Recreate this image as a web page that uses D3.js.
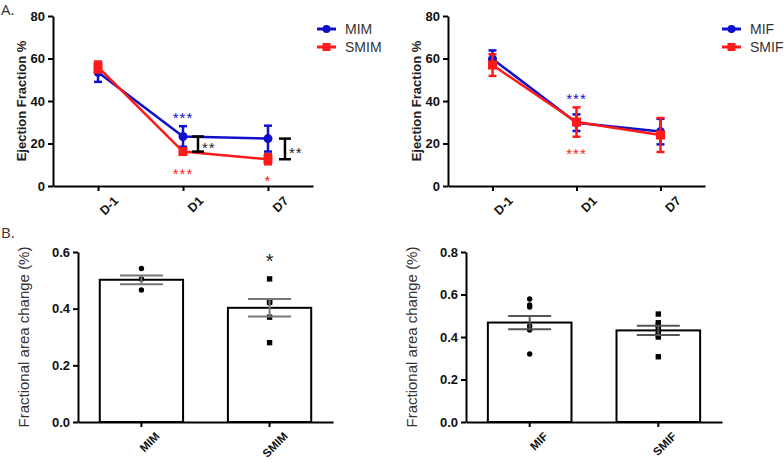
<!DOCTYPE html>
<html><head><meta charset="utf-8">
<script src="https://cdn.jsdelivr.net/npm/d3@7"></script>
<style>body{margin:0;background:#fff}svg{display:block}</style>
</head><body>
<svg id="c" width="784" height="462"></svg>
<script>
// ---- Data ----
const days = ["D-1", "D1", "D7"];
const efTicks = [0, 20, 40, 60, 80];
const mimMean = [53.5, 23.3, 22.3];
const mimSem = [4.5, 4.85, 6.1];
const smimMean = [56.0, 16.2, 12.6];
const smimSem = [2.6, 1.5, 2.4];
const mifMean = [59.8, 29.8, 25.6];
const mifSem = [4.0, 3.9, 6.0];
const smifMean = [56.9, 30.1, 24.0];
const smifSem = [5.1, 6.9, 8.0];

const groupsM = ["MIM", "SMIM"];
const groupsF = ["MIF", "SMIF"];
const facTicksM = [0, 0.2, 0.4, 0.6];
const facTicksF = [0, 0.2, 0.4, 0.6, 0.8];
const facMeanM = [0.502, 0.403];
const facSemM = [0.0155, 0.031];
const facMeanF = [0.468, 0.431];
const facSemF = [0.031, 0.022];
const mimPts = [0.542, 0.505, 0.466];
const smimPts = [0.505, 0.428, 0.422, 0.370, 0.280];
const mifPts = [0.579, 0.551, 0.541, 0.452, 0.438, 0.433, 0.320];
const smifPts = [0.508, 0.467, 0.456, 0.441, 0.425, 0.409, 0.400, 0.307];

const BLUE = "#1010cc", RED = "#ff1a1a";
const FONT = "'Liberation Sans', Arial, sans-serif";
const svg = d3.select("#c");

// panel labels
svg.append("text").attr("x", 1).attr("y", 15).text("A.")
  .attr("font-family", "'Open Sans', sans-serif").attr("font-size", 15).attr("fill", "#333");
svg.append("text").attr("x", 1).attr("y", 238).text("B.")
  .attr("font-family", "'Open Sans', sans-serif").attr("font-size", 15).attr("fill", "#333");

function styleAxis(g) {
  g.selectAll("path.domain").attr("stroke", "#000").attr("stroke-width", 2);
  g.selectAll(".tick line").attr("stroke", "#000").attr("stroke-width", 2);
  g.selectAll("text").attr("font-family", FONT).attr("font-weight", "bold").attr("fill", "#111");
}

function linePanel(opt) {
  const x = d3.scalePoint().domain(days).range([opt.x0, opt.x1]).padding(0.53);
  const y = d3.scaleLinear().domain([0, 80]).range([186, 16]);
  const g = svg.append("g");
  const ya = g.append("g").attr("transform", `translate(${opt.x0},0)`)
    .call(d3.axisLeft(y).tickValues(efTicks).tickSize(5).tickPadding(3).tickSizeOuter(0));
  styleAxis(ya);
  ya.selectAll("text").attr("font-size", 13);
  const xa = g.append("g").attr("transform", `translate(0,186)`)
    .call(d3.axisBottom(x).tickSize(5).tickSizeOuter(0));
  styleAxis(xa);
  xa.selectAll("text").attr("font-size", 12.5).attr("text-anchor", "end")
    .attr("transform", "translate(7,2) rotate(-45)").attr("dy", "0.9em").attr("dx", "0");
  g.append("text").attr("transform", `translate(${opt.x0 - 27},${y(40)}) rotate(-90)`)
    .attr("text-anchor", "middle").attr("font-family", FONT).attr("font-weight", "bold")
    .attr("font-size", 13).attr("fill", "#222").text("Ejection Fraction %");

  function series(mean, sem, color, shape) {
    const line = d3.line().x((d, i) => x(days[i])).y(d => y(d));
    g.append("path").datum(mean).attr("d", line).attr("fill", "none")
      .attr("stroke", color).attr("stroke-width", 2.5);
    mean.forEach((m, i) => {
      const cx = x(days[i]);
      g.append("line").attr("x1", cx).attr("x2", cx).attr("y1", y(m - sem[i])).attr("y2", y(m + sem[i]))
        .attr("stroke", color).attr("stroke-width", 2.5);
      [m - sem[i], m + sem[i]].forEach(v => g.append("line").attr("x1", cx - 4).attr("x2", cx + 4)
        .attr("y1", y(v)).attr("y2", y(v)).attr("stroke", color).attr("stroke-width", 2.5));
      if (shape === "circle") g.append("circle").attr("cx", cx).attr("cy", y(m)).attr("r", 4.5).attr("fill", color);
      else g.append("rect").attr("x", cx - 4.5).attr("y", y(m) - 4.5).attr("width", 9).attr("height", 9).attr("fill", color);
    });
  }
  series(opt.aMean, opt.aSem, BLUE, "circle");
  series(opt.bMean, opt.bSem, RED, "square");

  // legend
  const lx = opt.legX;
  [[opt.names[0], BLUE, "circle", 29], [opt.names[1], RED, "square", 47]].forEach(([n, c, s, ly]) => {
    g.append("line").attr("x1", lx).attr("x2", lx + 19).attr("y1", ly).attr("y2", ly).attr("stroke", c).attr("stroke-width", 3);
    if (s === "circle") g.append("circle").attr("cx", lx + 9.5).attr("cy", ly).attr("r", 4).attr("fill", c);
    else g.append("rect").attr("x", lx + 5.5).attr("y", ly - 4).attr("width", 8).attr("height", 8).attr("fill", c);
    g.append("text").attr("x", lx + 28).attr("y", ly).attr("dy", "0.36em").attr("font-family", FONT)
      .attr("font-size", 14).attr("fill", "#333").text(n);
  });

  // stars
  opt.stars.forEach(s => {
    g.append("text").attr("x", x(s.day) + (s.dx || 0)).attr("y", y(s.v)).attr("dy", "0.55em")
      .attr("text-anchor", s.anchor || "middle").attr("font-family", FONT).attr("font-size", 15)
      .attr("letter-spacing", "1px").attr("fill", s.color).text(s.t);
  });
  // brackets
  (opt.brackets || []).forEach(b => {
    const bx = x(b.day) + b.dx;
    const yt = y(opt.aMean[days.indexOf(b.day)]), yb = y(opt.bMean[days.indexOf(b.day)]);
    g.append("line").attr("x1", bx).attr("x2", bx).attr("y1", yt).attr("y2", yb).attr("stroke", "#000").attr("stroke-width", 2.5);
    [yt, yb].forEach(v => g.append("line").attr("x1", bx - 6).attr("x2", bx + 6).attr("y1", v).attr("y2", v)
      .attr("stroke", "#000").attr("stroke-width", 2.5));
    g.append("text").attr("x", bx + 4).attr("y", (yt + yb) / 2).attr("dy", "0.6em")
      .attr("font-family", FONT).attr("font-size", 15).attr("letter-spacing", "1px").attr("fill", "#222").text("**");
  });
}

linePanel({
  x0: 53, x1: 313, legX: 317, names: ["MIM", "SMIM"],
  aMean: mimMean, aSem: mimSem, bMean: smimMean, bSem: smimSem,
  stars: [{ day: "D1", v: 33.4, t: "***", color: BLUE }, { day: "D1", v: 7, t: "***", color: RED },
          { day: "D7", v: 3.8, t: "*", color: RED }],
  brackets: [{ day: "D1", dx: 15 }, { day: "D7", dx: 17 }]
});
linePanel({
  x0: 448, x1: 705, legX: 722, names: ["MIF", "SMIF"],
  aMean: mifMean, aSem: mifSem, bMean: smifMean, bSem: smifSem,
  stars: [{ day: "D1", v: 42.4, t: "***", color: BLUE }, { day: "D1", v: 16.5, t: "***", color: RED }]
});

function barPanel(opt) {
  const x = d3.scaleBand().domain(opt.groups).range([opt.x0, opt.x1]).paddingInner(0.35).paddingOuter(0.17);
  const y = d3.scaleLinear().domain([0, opt.max]).range([422, 252]);
  const g = svg.append("g");
  // bars
  opt.groups.forEach((gr, i) => {
    g.append("rect").attr("x", x(gr)).attr("y", y(opt.mean[i])).attr("width", x.bandwidth())
      .attr("height", y(0) - y(opt.mean[i])).attr("fill", "#fff").attr("stroke", "#000").attr("stroke-width", 2);
  });
  const ya = g.append("g").attr("transform", `translate(${opt.x0},0)`)
    .call(d3.axisLeft(y).tickValues(opt.ticks).tickFormat(d3.format(".1f")).tickSize(5).tickPadding(3).tickSizeOuter(0));
  styleAxis(ya);
  ya.selectAll("text").attr("font-size", 13);
  const xa = g.append("g").attr("transform", `translate(0,422)`)
    .call(d3.axisBottom(x).tickSize(5).tickSizeOuter(0));
  styleAxis(xa);
  xa.selectAll("text").attr("font-size", 11.5).attr("text-anchor", "end")
    .attr("transform", "translate(6,2) rotate(-45)").attr("dy", "0.9em");
  g.append("text").attr("transform", `translate(${opt.x0 - 49},${y(opt.max / 2) + 0}) rotate(-90)`)
    .attr("text-anchor", "middle").attr("font-family", FONT)
    .attr("font-size", 15).attr("fill", "#333").text("Fractional area change (%)");
  // points
  opt.groups.forEach((gr, i) => {
    const cx = x(gr) + x.bandwidth() / 2;
    opt.pts[i].forEach(v => {
      if (i === 0) g.append("circle").attr("cx", cx).attr("cy", y(v)).attr("r", 2.7).attr("fill", "#000");
      else g.append("rect").attr("x", cx - 2.7).attr("y", y(v) - 2.7).attr("width", 5.4).attr("height", 5.4).attr("fill", "#000");
    });
    const lo = opt.mean[i] - opt.sem[i], hi = opt.mean[i] + opt.sem[i];
    g.append("line").attr("x1", cx).attr("x2", cx).attr("y1", y(lo)).attr("y2", y(hi)).attr("stroke", opt.errColor).attr("stroke-width", 2);
    [lo, hi].forEach(v => g.append("line").attr("x1", cx - 21.5).attr("x2", cx + 21.5).attr("y1", y(v)).attr("y2", y(v))
      .attr("stroke", opt.errColor).attr("stroke-width", 2));
  });
  if (opt.star) {
    const cx = x(opt.star.group) + x.bandwidth() / 2;
    g.append("text").attr("x", cx).attr("y", y(opt.star.v)).attr("dy", "0.6em").attr("text-anchor", "middle")
      .attr("font-family", FONT).attr("font-size", 20).attr("fill", "#222").text("*");
  }
}

barPanel({ x0: 78, x1: 333, groups: groupsM, max: 0.6, ticks: facTicksM, mean: facMeanM, sem: facSemM,
  pts: [mimPts, smimPts], errColor: "#777", star: { group: "SMIM", v: 0.585 } });
barPanel({ x0: 466, x1: 722, groups: groupsF, max: 0.8, ticks: facTicksF, mean: facMeanF, sem: facSemF,
  pts: [mifPts, smifPts], errColor: "#555" });
</script>
</body></html>
